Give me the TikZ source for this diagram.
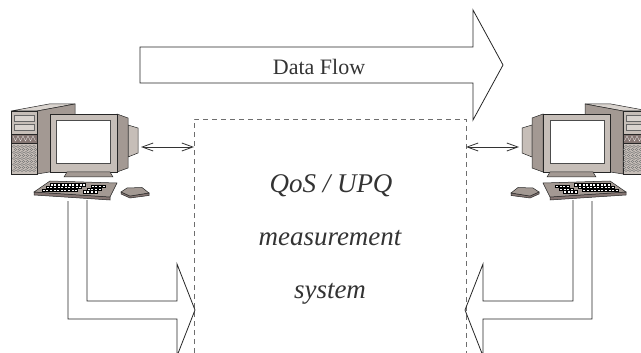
\documentclass[tikz,border=0pt]{standalone}
\usepackage{fontspec}
\setmainfont{Liberation Serif}
\usetikzlibrary{arrows.meta}

\definecolor{caseLight}{HTML}{D9D3CE}
\definecolor{caseMid}{HTML}{C6BEB8}
\definecolor{caseDark}{HTML}{A39993}
\definecolor{caseBrown}{HTML}{857673}
\definecolor{boxGray}{HTML}{6E6E6E}

\tikzset{
  outl/.style={draw=black!85, line width=0.5pt},
  bigarrow/.style={draw=black!85, line width=0.8pt, line join=miter},
  dbl/.style={draw=black!80, line width=0.8pt,
    {Straight Barb[length=11pt,width=8pt]}-{Straight Barb[length=11pt,width=8pt]}},
  keycap/.style={fill=white, draw=black, line width=0.3pt},
  sysText/.style={font=\fontsize{27}{30}\selectfont\itshape, text=black!80, anchor=base},
  % desktop computer, monitor facing right
  pc/.pic={
    % tower
    \filldraw[outl, fill=caseLight] (11,111)--(37,111)--(75,104)--(49,104)--cycle;
    \filldraw[outl, fill=caseDark] (37,111)--(75,104)--(75,168)--(37,174)--cycle;
    \filldraw[outl, fill=caseMid] (11,111) rectangle (37,174);
    \filldraw[draw=black!60, line width=0.3pt, fill=caseLight] (14,115) rectangle (34,121);
    \filldraw[draw=black!60, line width=0.3pt, fill=caseLight] (14,124) rectangle (34,130);
    \filldraw[outl, fill=caseBrown] (11,134) rectangle (37,143);
    \draw[white!80!caseBrown, line width=0.4pt] (13,136)--(15.5,141)--(18,136)--(20.5,141)--(23,136)
      --(25.5,141)--(28,136)--(30.5,141)--(33,136)--(35.5,141);
    \foreach \r in {0,...,8}
      \foreach \c in {0,...,5}
        \draw[black!55, line width=0.3pt] ({14+4*\c+mod(\r,2)*1.5},{146.5+3*\r}) ellipse (1.5 and 1.1);
    % monitor
    \filldraw[outl, fill=caseMid] (128,125)--(138,128)--(138,153)--(128,157)--cycle;
    \filldraw[outl, fill=caseDark] (117,114)--(128,118)--(128,168)--(117,172)--cycle;
    \filldraw[outl, fill=caseMid] (50,114) rectangle (117,172);
    \filldraw[draw=black!70, line width=0.4pt, fill=white] (56,120) rectangle (110,163);
    \filldraw[outl, fill=caseDark] (67,172)--(110,172)--(113,177)--(64,177)--cycle;
    % keyboard
    \filldraw[outl, fill=caseBrown] (34,192)--(110,197)--(110,200)--(34,195)--cycle;
    \filldraw[outl, fill=caseDark] (50,181)--(117,183)--(110,197)--(34,192)--cycle;
    \foreach \r in {0,1,2} {
      \foreach \c in {0,...,9}
        \filldraw[keycap] ({50-4*\r+3.6*\c},{183.5+2.8*\r}) rectangle +(3,2.2);
      \foreach \c in {0,...,3}
        \filldraw[keycap] ({91-4*\r+3.6*\c},{185+2.8*\r}) rectangle +(3,2.2);
    }
    % mouse
    \filldraw[outl, fill=caseBrown] (121,194)--(130,198)--(149,195.5)--(149,193)--(130,196)--(121,192)--cycle;
    \filldraw[outl, fill=caseDark] (121,192)--(127,188)--(142,187.5)--(149,193)--(130,196)--cycle;
  }
}

\begin{document}
\begin{tikzpicture}[x=1pt, y=-1pt]
  \useasboundingbox (0,0) rectangle (641,353);

  % COMPUTERS
  \pic (pcL) at (0,0) {pc};
  \pic[xscale=-1] (pcR) at (660,0) {pc};
  \coordinate (portL) at (141,147);
  \coordinate (portR) at (519,147);

  % MEASUREMENT SYSTEM
  \coordinate (sysNW) at (194,119);
  \coordinate (sysNE) at (466,119);
  \coordinate (sysW) at (194,147);
  \coordinate (sysE) at (466,147);
  \draw[boxGray, line width=0.8pt, dash pattern=on 5pt off 4pt]
    (194,353)--(sysNW)--(sysNE)--(466,353);
  \node[sysText] (qos) at (331,193) {QoS / UPQ};
  \node[sysText] (meas) at (330,245) {measurement};
  \node[sysText] (sys) at (330,298) {system};

  % LINKS
  \draw[dbl] (portL) -- (sysW);
  \draw[dbl] (portR) -- (sysE);

  % DATA FLOW ARROW
  \draw[bigarrow] (140,47)--(473,47)--(473,10)--(503,65)--(473,120)--(473,83)--(140,83)--cycle;
  \node[font=\fontsize{22}{26}\selectfont, text=black!80, anchor=base] (flow) at (319,75) {Data Flow};

  % INPUT ARROWS
  \draw[bigarrow] (87,200)--(87,301)--(177,301)--(177,264)--(195,310)--(177,356)--(177,319)--(68,319)--(68,201);
  \draw[bigarrow] (573,200)--(573,301)--(483,301)--(483,264)--(465,310)--(483,356)--(483,319)--(592,319)--(592,201);
\end{tikzpicture}
\end{document}
